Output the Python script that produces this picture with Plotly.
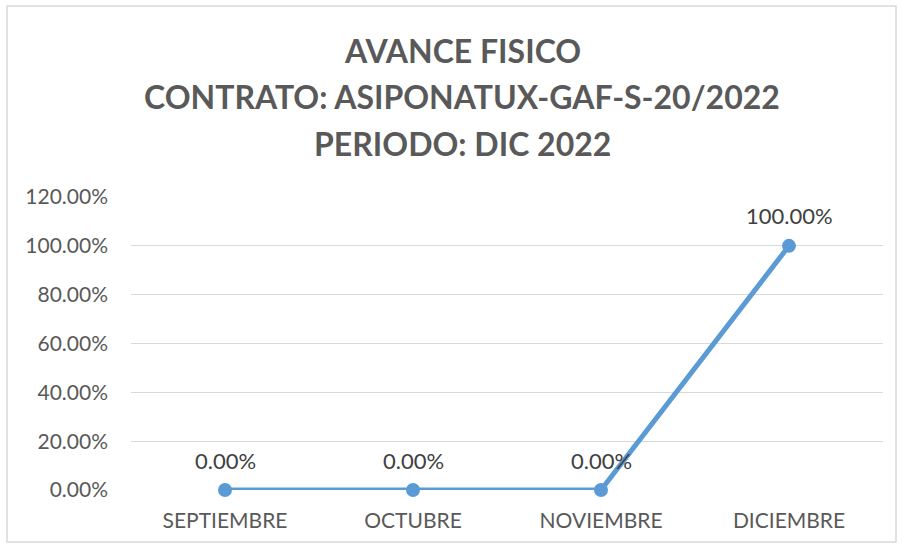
import plotly.graph_objects as go

months = ["SEPTIEMBRE", "OCTUBRE", "NOVIEMBRE", "DICIEMBRE"]
avance = [0.0, 0.0, 0.0, 100.0]
y_ticks = [0, 20, 40, 60, 80, 100, 120]
title_lines = ["AVANCE FISICO", "CONTRATO: ASIPONATUX-GAF-S-20/2022", "PERIODO: DIC 2022"]

FONT = "Lato"
GREY = "#595959"
BLUE = "#5B9BD5"

fig = go.Figure()
fig.add_trace(go.Scatter(
    x=months, y=avance, mode="lines+markers",
    line=dict(color=BLUE, width=5),
    marker=dict(color=BLUE, size=14),
    cliponaxis=False,
    hoverinfo="skip", showlegend=False,
))

annotations = []
for m, v in zip(months, avance):
    annotations.append(dict(
        x=m, y=v, xref="x", yref="y", text=f"{v:.2f}%", showarrow=False,
        yshift=30, font=dict(family=FONT, size=22, color="#404040"),
    ))
title_y = [1.5017, 1.3413, 1.1843]
for t, yy in zip(title_lines, title_y):
    annotations.append(dict(
        x=0.4402, y=yy, xref="paper", yref="paper", text=f"<b>{t}</b>",
        showarrow=False, yanchor="middle", xanchor="center",
        font=dict(family=FONT, size=32, color=GREY),
    ))

fig.update_layout(
    width=902, height=548,
    margin=dict(l=131, r=19, t=197, b=58),
    paper_bgcolor="white", plot_bgcolor="white",
    font=dict(family=FONT, color=GREY),
    xaxis=dict(type="category", range=[-0.5, 3.5], showgrid=False, zeroline=False,
               showline=False, ticks="", tickfont=dict(size=21, color=GREY),
               ticklabelstandoff=16, fixedrange=True),
    yaxis=dict(range=[0, 120], tickvals=y_ticks,
               ticktext=[f"{v:.2f}%" for v in y_ticks],
               showgrid=True, gridcolor="#D9D9D9", gridwidth=1,
               zeroline=False, showline=False, ticks="",
               tickfont=dict(size=21, color=GREY), ticklabelstandoff=22,
               fixedrange=True),
    annotations=annotations,
    shapes=[dict(type="rect", xref="paper", yref="paper",
                 x0=-0.1649, x1=1.0173, y0=-0.1775, y1=1.652,
                 line=dict(color="#D9D9D9", width=1.5), layer="below")],
)

fig.write_html("out.html", config={"displayModeBar": False},
               post_script="document.body.style.margin='0';document.body.style.padding='0';")
